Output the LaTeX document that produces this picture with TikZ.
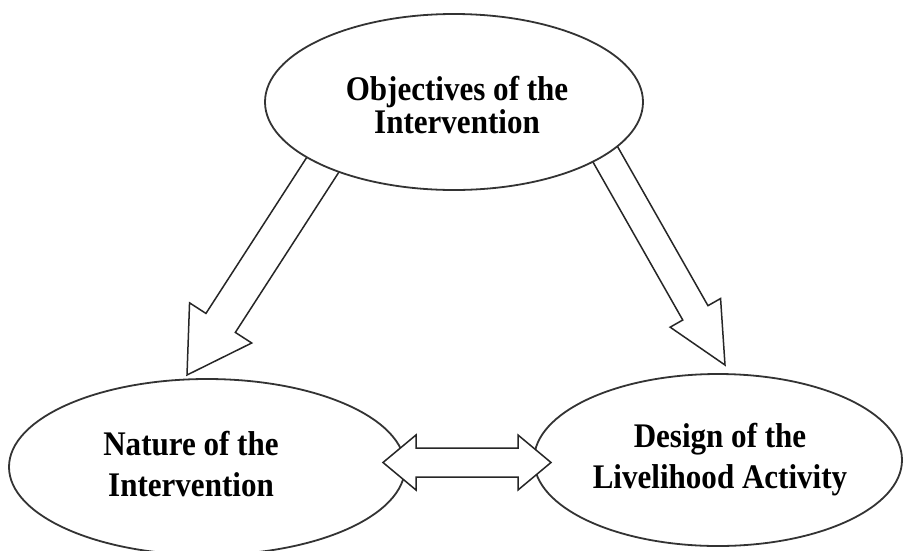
\documentclass[tikz,border=0pt]{standalone}
\usepackage{fontspec}
\setmainfont{Liberation Serif}
\newfontfamily\narrowserif[FakeStretch=0.9]{Liberation Serif}
\usetikzlibrary{shapes.geometric,calc}
% #1 start, #2 tip, #3 shaft half width, #4 head half width, #5 head length
\newcommand\blockarrow[5]{%
  \coordinate (#1h) at ($(#2)!#5!(#1)$);
  \draw[barrow] ($(#1)!#3!90:(#2)$) -- ($(#1h)!#3!90:(#2)$) -- ($(#1h)!#4!90:(#2)$) -- (#2)
    -- ($(#1h)!#4!-90:(#2)$) -- ($(#1h)!#3!-90:(#2)$) -- ($(#1)!#3!-90:(#2)$) -- cycle;}
% #1 left tip, #2 right tip
\newcommand\dblblockarrow[5]{%
  \coordinate (#1a) at ($(#1)!#5!(#2)$);
  \coordinate (#2a) at ($(#2)!#5!(#1)$);
  \draw[barrow] (#1) -- ($(#1a)!#4!90:(#2)$) -- ($(#1a)!#3!90:(#2)$) -- ($(#2a)!#3!-90:(#1)$)
    -- ($(#2a)!#4!-90:(#1)$) -- (#2) -- ($(#2a)!#4!90:(#1)$) -- ($(#2a)!#3!90:(#1)$)
    -- ($(#1a)!#3!-90:(#2)$) -- ($(#1a)!#4!-90:(#2)$) -- cycle;}
\begin{document}
\begin{tikzpicture}[x=1pt,y=-1pt,
  ell/.style={ellipse,draw=black!80,line width=1.8pt,fill=white,inner sep=0pt},
  barrow/.style={draw=black!85,line width=1.5pt,fill=white,line join=miter},
  lbltop/.style={align=center,inner sep=0pt,font=\narrowserif\fontsize{34.5pt}{33pt}\selectfont\bfseries},
  lblbot/.style={align=center,inner sep=0pt,font=\narrowserif\fontsize{34.5pt}{41pt}\selectfont\bfseries}]
\useasboundingbox (0,0) rectangle (903,550);
\clip (0,0) rectangle (903,550);
\fill[white] (0,0) rectangle (903,550);
% arrows from the top ellipse
\coordinate (ls) at (333,149);
\coordinate (lt) at (187,375);
\coordinate (rs) at (596,138);
\coordinate (rt) at (725,365);
\blockarrow{ls}{lt}{17.5pt}{37pt}{62pt}
\blockarrow{rs}{rt}{14.5pt}{29pt}{60pt}
% ellipses
\node[ell,minimum width=378pt,minimum height=176pt] (obj) at (454,102) {};
\node[ell,minimum width=396pt,minimum height=176pt] (nat) at (207,467) {};
\node[ell,minimum width=368pt,minimum height=172pt] (des) at (718,460) {};
% labels
\node[lbltop] (objT) at (457,105) {Objectives of the\\Intervention};
\node[lblbot] (natT) at (191,464) {Nature of the\\Intervention};
\node[lblbot] (desT) at (720,460) {Design of the\\Livelihood Activity};
% double arrow
\coordinate (dl) at (383,462.5);
\coordinate (dr) at (551,462.5);
\dblblockarrow{dl}{dr}{14.5pt}{27.5pt}{33pt}
\end{tikzpicture}
\end{document}
